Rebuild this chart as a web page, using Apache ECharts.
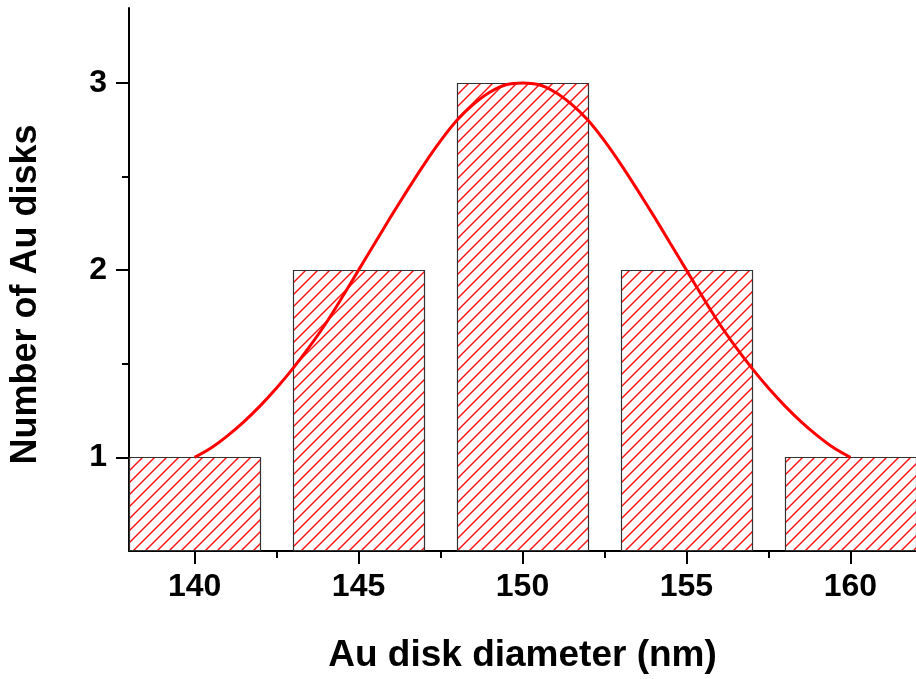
<!DOCTYPE html>
<html>
<head>
<meta charset="utf-8">
<script src="https://cdn.jsdelivr.net/npm/echarts@6/dist/echarts.min.js"></script>
<style>
html,body{margin:0;padding:0;background:#fff;}
#chart{width:916px;height:679px;}
</style>
</head>
<body>
<div id="chart"></div>
<script>
// ---- data ----
const binCenters = [140, 145, 150, 155, 160];
const binCounts = [1, 2, 3, 2, 1];
const binWidth = 4;
const fitX = [140,140.5,141,141.5,142,142.5,143,143.5,144,144.5,145,145.5,146,146.5,147,147.5,148,148.5,149,149.5,150,
              150.5,151,151.5,152,152.5,153,153.5,154,154.5,155,155.5,156,156.5,157,157.5,158,158.5,159,159.5,160];
const fitY = [1.00,1.05,1.115,1.19,1.275,1.37,1.475,1.59,1.715,1.855,2.00,2.145,2.29,2.43,2.565,2.69,2.80,2.885,2.95,2.99,3.00,
              2.99,2.95,2.885,2.80,2.69,2.565,2.43,2.29,2.145,2.00,1.855,1.715,1.59,1.475,1.37,1.275,1.19,1.115,1.05,1.00];
const xMajorTicks = [140, 145, 150, 155, 160];
const xMinorTicks = [142.5, 147.5, 152.5, 157.5];
const yMajorTicks = [1, 2, 3];
const yMinorTicks = [1.5, 2.5];
const xMin = 138, xMax = 162;
const yMin = 0.5, yMax = 3.4;

const HATCH_STEP = 12;
const font = '"Liberation Sans", Arial, sans-serif';
const chart = echarts.init(document.getElementById('chart'));

const barData = binCenters.map((c, i) => [c, binCounts[i]]);
const fitData = fitX.map((x, i) => [x, fitY[i]]);

function hatchLines(x0, y0, x1, y1) {
  const out = [];
  const kStart = Math.ceil((x0 + y0) / HATCH_STEP) * HATCH_STEP;
  for (let k = kStart; k <= x1 + y1; k += HATCH_STEP) {
    const xa = Math.max(x0, k - y1);
    const xb = Math.min(x1, k - y0);
    if (xb > xa) {
      out.push({
        type: 'line',
        shape: { x1: xa, y1: k - xa, x2: xb, y2: k - xb },
        style: { stroke: '#ff1010', lineWidth: 1.4 }
      });
    }
  }
  return out;
}

chart.setOption({
  animation: false,
  backgroundColor: '#fff',
  grid: { left: 127, right: -6, top: 8, bottom: 126 },
  xAxis: [{
    type: 'value', min: xMin, max: xMax,
    name: 'Au disk diameter (nm)', nameLocation: 'middle', nameGap: 86,
    nameTextStyle: { fontFamily: font, fontWeight: 'bold', fontSize: 37, color: '#000' },
    axisLine: { show: true, lineStyle: { color: '#000', width: 2 } },
    axisTick: { show: true, customValues: xMajorTicks, length: 13, lineStyle: { color: '#000', width: 2 } },
    axisLabel: { show: true, customValues: xMajorTicks, margin: 20, fontFamily: font, fontWeight: 'bold', fontSize: 32, color: '#000' },
    splitLine: { show: false }
  }, {
    type: 'value', min: xMin, max: xMax, position: 'bottom',
    axisLine: { show: false },
    axisTick: { show: true, customValues: xMinorTicks, length: 7, lineStyle: { color: '#000', width: 2 } },
    axisLabel: { show: false },
    splitLine: { show: false }
  }],
  yAxis: [{
    type: 'value', min: yMin, max: yMax,
    name: 'Number of Au disks', nameLocation: 'middle', nameGap: 85, nameRotate: 90,
    nameTextStyle: { fontFamily: font, fontWeight: 'bold', fontSize: 36, color: '#000', padding: [0, 30, 0, 0] },
    axisLine: { show: true, lineStyle: { color: '#000', width: 2 } },
    axisTick: { show: true, customValues: yMajorTicks, length: 13, lineStyle: { color: '#000', width: 2 } },
    axisLabel: { show: true, customValues: yMajorTicks, margin: 22, fontFamily: font, fontWeight: 'bold', fontSize: 32, color: '#000' },
    splitLine: { show: false }
  }, {
    type: 'value', min: yMin, max: yMax, position: 'left',
    axisLine: { show: false },
    axisTick: { show: true, customValues: yMinorTicks, length: 7, lineStyle: { color: '#000', width: 2 } },
    axisLabel: { show: false },
    splitLine: { show: false }
  }],
  series: [{
    type: 'custom',
    data: barData,
    z: 1,
    renderItem: function (params, api) {
      const c = api.value(0), v = api.value(1);
      const p0 = api.coord([c - binWidth / 2, v]);
      const p1 = api.coord([c + binWidth / 2, yMin]);
      const x0 = Math.round(p0[0]) + 0.5, y0 = Math.round(p0[1]) + 0.5;
      const x1 = Math.round(p1[0]) + 0.5, y1 = Math.round(p1[1]) - 0.5;
      const children = hatchLines(x0, y0, x1, y1);
      children.push({
        type: 'rect',
        shape: { x: x0, y: y0, width: x1 - x0, height: y1 - y0 },
        style: { fill: null, stroke: '#333', lineWidth: 1.2 }
      });
      return { type: 'group', children: children };
    }
  }, {
    type: 'line',
    data: fitData,
    z: 5,
    smooth: 0.3,
    showSymbol: false,
    lineStyle: { color: '#ff0000', width: 3 }
  }]
});
</script>
</body>
</html>
